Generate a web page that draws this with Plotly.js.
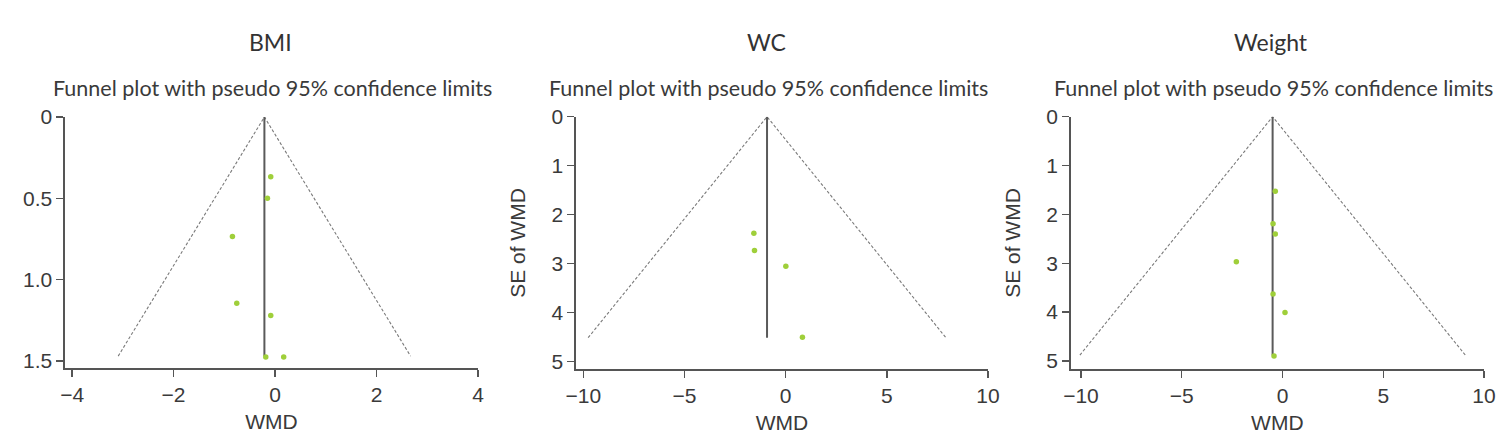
<!DOCTYPE html>
<html>
<head>
<meta charset="utf-8">
<script src="https://cdn.plot.ly/plotly-3.0.1.min.js"></script>
<style>html,body{margin:0;padding:0;background:#fff;}#chart{width:1498px;height:442px;}</style>
</head>
<body>
<div id="chart"></div>
<script>
// ---- data ----
const panelTitles = ["BMI", "WC", "Weight"];
const subtitle = "Funnel plot with pseudo 95% confidence limits";

const bmiWMD = [-0.085, -0.15, -0.84, -0.755, -0.085, -0.183, 0.17];
const bmiSE  = [0.367, 0.50, 0.735, 1.145, 1.22, 1.475, 1.475];
const bmiCenter = -0.21;
const bmiMaxSE = 1.47;

const wcWMD = [-1.57, -1.54, 0.01, 0.83];
const wcSE  = [2.38, 2.73, 3.05, 4.50];
const wcCenter = -0.92;
const wcMaxSE = 4.51;

const wtWMD = [-0.357, -0.47, -0.357, -2.29, -0.47, 0.124, -0.42];
const wtSE  = [1.527, 2.19, 2.40, 2.97, 3.63, 4.01, 4.90];
const wtCenter = -0.49;
const wtMaxSE = 4.88;

const bmiYTicks = [0, 0.5, 1.0, 1.5];
const bmiYTickText = ["0", "0.5", "1.0", "1.5"];
const bmiXTicks = [-4, -2, 0, 2, 4];
const seYTicks = [0, 1, 2, 3, 4, 5];
const wmdXTicks10 = [-10, -5, 0, 5, 10];

// ---- layout helpers ----
const W = 1498, H = 442;
const px = v => v / W;
const py = v => 1 - v / H;

const panels = [
  {wmd: bmiWMD, se: bmiSE, c: bmiCenter, m: bmiMaxSE, xr: [-4.14, 4], yr: [1.543, 0],
   xt: bmiXTicks, yt: bmiYTicks, ytt: bmiYTickText, dom: [65, 478], ydom: [117, 368], ytitle: "", tx: 270},
  {wmd: wcWMD, se: wcSE, c: wcCenter, m: wcMaxSE, xr: [-10.36, 10], yr: [5.155, 0],
   xt: wmdXTicks10, yt: seYTicks, ytt: seYTicks.map(String), dom: [576, 988], ydom: [116.7, 369.3], ytitle: "SE of WMD", tx: 766},
  {wmd: wtWMD, se: wtSE, c: wtCenter, m: wtMaxSE, xr: [-10.51, 10], yr: [5.17, 0],
   xt: wmdXTicks10, yt: seYTicks, ytt: seYTicks.map(String), dom: [1070.7, 1484], ydom: [116.7, 369.3], ytitle: "SE of WMD", tx: 1271}
];

const traces = [];
const layout = {
  width: W, height: H,
  margin: {l: 0, r: 0, t: 0, b: 0},
  paper_bgcolor: "#fff", plot_bgcolor: "#fff",
  showlegend: false,
  annotations: []
};

const tickFont = {family: "Liberation Sans, Arial, sans-serif", size: 21, color: "#3a3a3a"};
const axTitleFont = {family: "Liberation Sans, Arial, sans-serif", size: 21, color: "#3a3a3a"};
const titleFont = {family: "Lato, sans-serif", size: 23, color: "#333"};
const subFont = {family: "Lato, sans-serif", size: 21.5, color: "#3a3a3a"};

panels.forEach((p, i) => {
  const n = i === 0 ? "" : String(i + 1);
  const xa = "x" + n, ya = "y" + n;
  // funnel limits
  traces.push({
    type: "scatter", mode: "lines", xaxis: xa, yaxis: ya,
    x: [p.c - 1.96 * p.m, p.c, p.c + 1.96 * p.m],
    y: [p.m, 0, p.m],
    line: {color: "#7a7a7a", width: 1.1, dash: "3px,2px"},
    hoverinfo: "skip"
  });
  // pooled estimate line
  traces.push({
    type: "scatter", mode: "lines", xaxis: xa, yaxis: ya,
    x: [p.c, p.c], y: [0, p.m],
    line: {color: "#5a5a5a", width: 2},
    hoverinfo: "skip"
  });
  // studies
  traces.push({
    type: "scatter", mode: "markers", xaxis: xa, yaxis: ya,
    x: p.wmd, y: p.se,
    marker: {color: "#9fcf3a", size: 5.5}
  });

  layout["xaxis" + n] = {
    domain: [px(p.dom[0]), px(p.dom[1])],
    anchor: ya, range: p.xr, tickvals: p.xt,
    ticks: "outside", ticklen: 7, tickcolor: "#555", tickwidth: 1.4,
    showline: true, linecolor: "#555", linewidth: 1.6,
    showgrid: false, zeroline: false, tickfont: tickFont,
    title: {text: "WMD", font: axTitleFont, standoff: 9}
  };
  layout["yaxis" + n] = {
    domain: [py(p.ydom[1]), py(p.ydom[0])],
    anchor: xa, range: p.yr, tickvals: p.yt, ticktext: p.ytt,
    ticks: "outside", ticklen: 7, tickcolor: "#555", tickwidth: 1.4,
    showline: true, linecolor: "#555", linewidth: 1.6,
    showgrid: false, zeroline: false, tickfont: tickFont,
    title: {text: p.ytitle, font: axTitleFont, standoff: 20}
  };

  layout.annotations.push({
    xref: "paper", yref: "paper", x: px(p.tx), y: py(42),
    text: panelTitles[i], showarrow: false, font: titleFont, xanchor: "center", yanchor: "middle"
  });
  layout.annotations.push({
    xref: "paper", yref: "paper", x: px(p.tx + 2), y: py(88),
    text: subtitle, showarrow: false, font: subFont, xanchor: "center", yanchor: "middle"
  });
});

Plotly.newPlot("chart", traces, layout, {displayModeBar: false, staticPlot: true});
</script>
</body>
</html>
